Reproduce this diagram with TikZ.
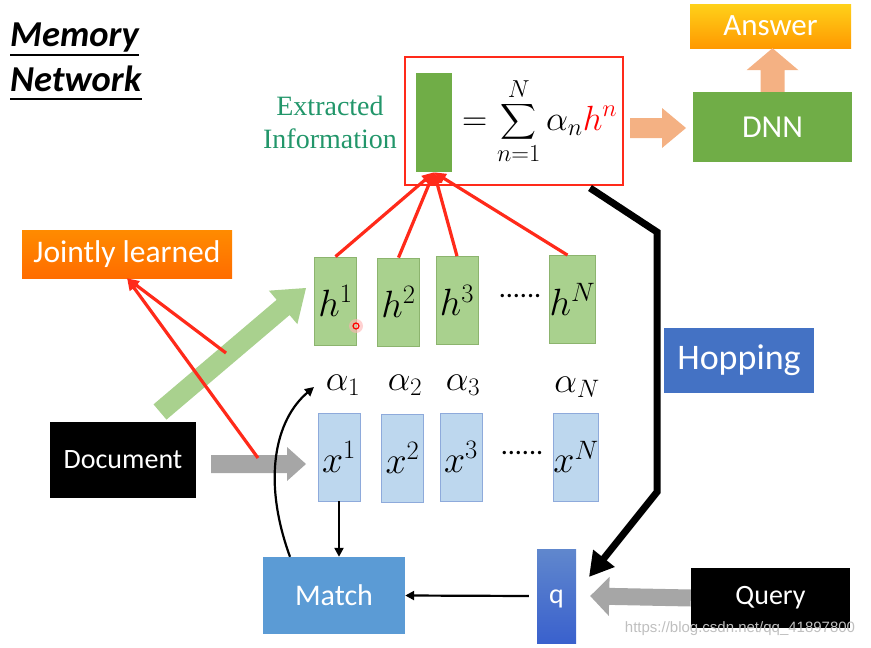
\RequirePackage{fix-cm}
\documentclass[tikz,border=0pt]{standalone}
\usepackage{exscale}
\usepackage{fontspec}
\setmainfont{Carlito}
\newfontfamily\serifx{Liberation Serif}
\newfontfamily\wmfont{Liberation Sans}
\usetikzlibrary{calc,arrows.meta}
\definecolor{dnngreen}{HTML}{70AD47}
\definecolor{hgreen}{HTML}{A9D18E}
\definecolor{hborder}{HTML}{8CB46E}
\definecolor{xblue}{HTML}{BDD7EE}
\definecolor{xborder}{HTML}{8EAADB}
\definecolor{salmon}{HTML}{F4B183}
\definecolor{arrgray}{HTML}{A6A6A6}
\definecolor{matchblue}{HTML}{5B9BD5}
\definecolor{hopblue}{HTML}{4472C4}
\definecolor{extgreen}{HTML}{22966A}
\definecolor{pptred}{HTML}{FF2A1A}
\newcommand{\blockarr}[6]{%
  \path ($(#2)!#5!(#1)$) coordinate (ba-neck);
  \fill[#6] ($(#1)!#3!90:(#2)$) -- ($(ba-neck)!#3!90:(#2)$) -- ($(ba-neck)!#4!90:(#2)$)
    -- (#2) -- ($(ba-neck)!#4!-90:(#2)$) -- ($(ba-neck)!#3!-90:(#2)$) -- ($(#1)!#3!-90:(#2)$) -- cycle;}
\tikzset{
  sbox/.style={rectangle, inner sep=0pt, text=white, font=\fontsize{30}{32}\selectfont},
  hbox/.style={rectangle, inner sep=0pt, fill=hgreen, draw=hborder, line width=0.8pt,
    minimum width=42pt, minimum height=88pt, font=\fontsize{38}{40}\selectfont},
  xbox/.style={rectangle, inner sep=0pt, fill=xblue, draw=xborder, line width=0.8pt,
    minimum width=42pt, minimum height=88pt, font=\fontsize{38}{40}\selectfont},
  alab/.style={inner sep=0pt, font=\fontsize{36}{40}\selectfont},
  dots/.style={inner sep=0pt, font=\fontsize{28}{30}\selectfont},
  redline/.style={draw=pptred, line width=3.2pt, -{Triangle[length=12pt,width=10pt]}},
  thinarr/.style={draw=black, line width=2.2pt, -{Triangle[length=9pt,width=9pt]}},
  ttl/.style={inner sep=0pt, anchor=base west, font=\bfseries\itshape\fontsize{36.5}{38}\selectfont},
}
\begin{document}
\begin{tikzpicture}[x=1pt,y=-1pt]
\useasboundingbox (0,0) rectangle (871,648);
% title
\node[ttl] (t1) at (10,46) {Memory};
\node[ttl] (t2) at (10,91) {Network};
\draw[line width=1.6pt] ([yshift=-9pt]t1.base west) -- ([yshift=-9pt]t1.base east);
\draw[line width=1.6pt] ([yshift=-8pt]t2.base west) -- ([yshift=-8pt]t2.base east);
% top area
\node[rectangle, draw=pptred, line width=2.2pt, minimum width=218pt, minimum height=128pt] (redbox) at (514,121) {};
\node[rectangle, fill=dnngreen, minimum width=36pt, minimum height=99pt, inner sep=0] (gbar) at (434,122.5) {};
\node[anchor=west, inner sep=0pt, font=\fontsize{35}{38}\selectfont] (form) at (462,121) {$=\displaystyle\sum_{n=1}^{N}\alpha_n\textcolor{red}{h^n}$};
\node[align=center, text=extgreen, inner sep=0pt, font=\serifx\fontsize{28}{33}\selectfont] (ext) at (330,122) {Extracted\\Information};
\node[sbox, fill=dnngreen, minimum width=159pt, minimum height=70pt, font=\fontsize{32}{34}\selectfont] (dnn) at (772.5,127) {DNN};
\node[sbox, top color=yellow!60!orange!90, bottom color=orange!80!yellow, minimum width=161pt, minimum height=44pt, font=\fontsize{31}{33}\selectfont] (answer) at (770.5,26) {Answer};
\coordinate (sa1) at (630,128);
\coordinate (sa2) at (686,128);
\blockarr{sa1}{sa2}{10pt}{20pt}{24pt}{salmon}
\blockarr{dnn.north}{dnn.north |- answer.south}{12pt}{26pt}{22pt}{salmon}
% jointly learned
\node[sbox, top color=orange!70!red!70!yellow, bottom color=orange!85!red, minimum width=210pt, minimum height=48pt, font=\fontsize{31.5}{33}\selectfont] (jl) at (127,254) {Jointly learned};
% green diagonal arrow
\coordinate (gd1) at (160,412);
\coordinate (gd2) at (306,288);
\blockarr{gd1}{gd2}{10pt}{22pt}{30pt}{hgreen}
% h boxes
\node[hbox] (h1) at (335.5,301) {$h^1$};
\node[hbox] (h2) at (398.5,302) {$h^2$};
\node[hbox] (h3) at (457,300.5) {$h^3$};
\node[hbox] (hN) at (572.5,299.5) {$h^N$};
\node[dots] (hdots) at (520,296) {......};
% alpha labels
\node[alab] (a1) at (343,385) {$\alpha_1$};
\node[alab] (a2) at (405,385) {$\alpha_2$};
\node[alab] (a3) at (463,385) {$\alpha_3$};
\node[alab] (aN) at (577,387) {$\alpha_N$};
% x boxes
\node[xbox] (x1) at (339,457) {$x^1$};
\node[xbox] (x2) at (402.5,458) {$x^2$};
\node[xbox] (x3) at (461,457) {$x^3$};
\node[xbox] (xN) at (576,457) {$x^N$};
\node[dots] (xdots) at (522,453) {......};
% red lines to extracted information
\draw[redline] (h1.north) -- (gbar.south);
\draw[redline] (h2.north) -- (gbar.south);
\draw[redline] (h3.north) -- (gbar.south);
\draw[redline] ([xshift=-5pt]hN.north) -- (gbar.south);
% document
\node[sbox, fill=black, minimum width=146pt, minimum height=76pt, font=\fontsize{28}{30}\selectfont] (doc) at (123,460) {Document};
\coordinate (gr1) at (211,464);
\coordinate (gr2) at (306,464);
\blockarr{gr1}{gr2}{9pt}{17pt}{19pt}{arrgray}
% red lines to jointly learned
\coordinate (jr1) at (226,353);
\coordinate (jr2) at (258,458);
\draw[redline] (jr1) -- (jl.south);
\draw[redline] (jr2) -- (jl.south);
% match, q, query
\node[sbox, fill=matchblue, minimum width=142pt, minimum height=77pt] (match) at (334,595.5) {Match};
\node[sbox, top color=hopblue!85!white, bottom color=hopblue!85!blue, minimum width=39pt, minimum height=94pt, text height=14pt, text depth=0pt, font=\fontsize{28}{30}\selectfont] (q) at (556.5,596) {q};
\node[sbox, fill=black, minimum width=159pt, minimum height=60pt, font=\fontsize{28}{30}\selectfont] (query) at (770.5,598) {Query};
\blockarr{query.west}{[xshift=14pt]q.east}{8.5pt}{19.5pt}{19pt}{arrgray}
\draw[thinarr] ([xshift=-8pt]q.west) -- (match.east);
\draw[thinarr] (x1.south) -- (x1.south |- match.north);
\coordinate (atip) at (314,387);
\draw[thinarr] ([xshift=-44pt]match.north) .. controls (262,480) and (275,420) .. (atip);
% hopping
\node[sbox, fill=hopblue, minimum width=150pt, minimum height=65pt, font=\fontsize{36}{38}\selectfont] (hop) at (739,360.5) {Hopping};
\coordinate (hp0) at (590,188);
\coordinate (hp1) at (657,232);
\coordinate (hp2) at (657,492);
\coordinate (hp3) at (589,577);
\draw[line width=7pt, -{Triangle[length=24pt,width=26pt]}] (hp0) -- (hp1) -- (hp2) -- (hp3);
% cursor
\fill[red!30, opacity=0.6] (356,326) circle (7);
\node[circle, draw=red, line width=1.2pt, minimum size=6pt, inner sep=0pt] (cursor) at (356,326) {};
% watermark
\node[inner sep=0pt, text=black!25, font=\wmfont\fontsize{15}{15}\selectfont] (wm) at (740,629) {https://blog.csdn.net/qq\_41897800};
\end{tikzpicture}
\end{document}
